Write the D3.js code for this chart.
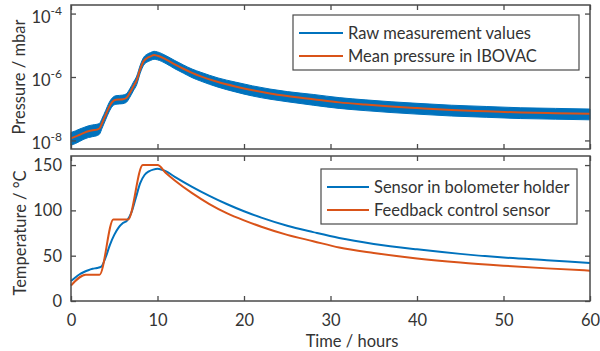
<!DOCTYPE html>
<html lang="en">
<head>
<meta charset="utf-8">
<title>Pressure and temperature</title>
<script src="https://d3js.org/d3.v7.min.js"></script>
<style>
  body { margin: 0; background: #fff; }
  svg text { font-family: Lato, "Open Sans", sans-serif; fill: #333; }
  .axis line, .axis path { stroke: #4a4a4a; }
</style>
</head>
<body>
<svg id="chart" width="600" height="351"></svg>
<script>
// ---- pressure (log10 of mbar) ----
let pTime = [0, 0.5, 1, 1.5, 2, 2.5, 3, 3.3, 3.6, 4, 4.4, 4.8, 5.2, 5.6, 6, 6.4, 6.8, 7.2, 7.6, 8, 8.4, 8.8, 9.2, 9.6, 10,
             11, 12, 13, 14, 15, 17, 19, 21, 23, 25, 28, 31, 34, 37, 40, 44, 48, 52, 56, 60];
let pMeanLog = [-7.93, -7.88, -7.82, -7.76, -7.71, -7.68, -7.66, -7.62, -7.45, -7.2, -6.95, -6.78, -6.72, -6.71, -6.70, -6.66, -6.5, -6.3, -6.1, -5.75, -5.5, -5.4, -5.35, -5.31, -5.33,
                -5.45, -5.6, -5.74, -5.87, -5.98, -6.16, -6.3, -6.42, -6.52, -6.6, -6.7, -6.8, -6.87, -6.93, -6.98, -7.04, -7.08, -7.12, -7.14, -7.16];
// spread of the raw readings around the mean, in decades (above / below)
let pRawUp = [0.18, 0.18, 0.18, 0.17, 0.17, 0.17, 0.17, 0.16, 0.15, 0.14, 0.14, 0.13, 0.13, 0.13, 0.13, 0.13, 0.13, 0.13, 0.13, 0.12, 0.12, 0.12, 0.12, 0.12, 0.12,
              0.12, 0.12, 0.12, 0.12, 0.13, 0.13, 0.14, 0.14, 0.14, 0.14, 0.15, 0.15, 0.15, 0.15, 0.15, 0.15, 0.15, 0.15, 0.15, 0.15];
let pRawDown = [0.22, 0.22, 0.21, 0.2, 0.2, 0.2, 0.19, 0.18, 0.16, 0.15, 0.15, 0.14, 0.14, 0.14, 0.14, 0.14, 0.14, 0.14, 0.14, 0.13, 0.13, 0.13, 0.13, 0.13, 0.13,
                0.13, 0.14, 0.14, 0.15, 0.15, 0.16, 0.17, 0.18, 0.18, 0.18, 0.19, 0.19, 0.19, 0.19, 0.19, 0.19, 0.19, 0.19, 0.19, 0.19];
let pTicks = [-8, -6, -4];

// ---- temperature (deg C) ----
let holderTime = [0, 0.5, 1, 1.5, 2, 2.5, 3, 3.5, 4, 4.5, 5, 5.5, 6, 6.5, 7, 7.5, 8, 8.5, 9, 9.5, 10,
                  11, 12, 14, 16, 18, 20, 22, 25, 28, 31, 35, 40, 45, 50, 55, 60];
let holderTemp = [22, 26, 29.5, 32, 34, 35.5, 36.5, 38, 48, 62, 73, 81, 86, 89, 98, 114, 130, 139, 143, 145, 146,
                  143, 137, 126, 116, 107, 99, 92, 83, 76, 69.5, 63, 57, 52, 48, 45, 42];
let feedbackTime = [0, 1.7, 3.3, 4.9, 6.6, 8.3, 10, 11, 12, 14, 16, 18, 20, 22, 25, 28, 31, 35, 40, 45, 50, 55, 60];
let feedbackTemp = [17, 29, 29, 90, 90, 150, 150, 141, 133, 119, 107, 97, 89, 82, 73, 66, 59, 53, 47, 42.5, 39, 36, 33.5];
let tTicks = [0, 50, 100, 150];
let xTicks = [0, 10, 20, 30, 40, 50, 60];

let blue = "#0072BD", red = "#D95319";
let fs = 16.5;
let svg = d3.select("#chart");
let left = 71, right = 590;
let top1 = 5, bot1 = 149, top2 = 156, bot2 = 301;

let x = d3.scaleLinear().domain([0, 60]).range([left, right]);
let yP = d3.scaleLinear().domain([-8.27, -3.73]).range([bot1, top1]);
let yT = d3.scaleLinear().domain([0, 160]).range([bot2, top2]);

// ---- top panel ----
let pData = pTime.map((t, i) => ({t: t, m: pMeanLog[i], hi: pMeanLog[i] + pRawUp[i], lo: pMeanLog[i] - pRawDown[i]}));

svg.append("path")
    .datum(pData)
    .attr("fill", blue)
    .attr("stroke", blue)
    .attr("stroke-width", 1)
    .attr("d", d3.area().x(d => x(d.t)).y0(d => yP(d.lo)).y1(d => yP(d.hi)).curve(d3.curveMonotoneX));

svg.append("path")
    .datum(pData)
    .attr("fill", "none")
    .attr("stroke", red)
    .attr("stroke-width", 2)
    .attr("d", d3.line().x(d => x(d.t)).y(d => yP(d.m)).curve(d3.curveMonotoneX));

// ---- bottom panel ----
svg.append("path")
    .datum(holderTime.map((t, i) => [t, holderTemp[i]]))
    .attr("fill", "none")
    .attr("stroke", blue)
    .attr("stroke-width", 2)
    .attr("d", d3.line().x(d => x(d[0])).y(d => yT(d[1])).curve(d3.curveMonotoneX));

svg.append("path")
    .datum(feedbackTime.map((t, i) => [t, feedbackTemp[i]]))
    .attr("fill", "none")
    .attr("stroke", red)
    .attr("stroke-width", 2)
    .attr("d", d3.line().x(d => x(d[0])).y(d => yT(d[1])).curve(d3.curveMonotoneX));

// ---- axes (box with inward ticks) ----
function box(y, top, bot, ticks, withXLabels) {
    let g = svg.append("g").attr("class", "axis");
    g.append("g").attr("transform", `translate(0,${bot})`)
        .call(d3.axisBottom(x).tickValues(xTicks).tickSize(-5).tickSizeOuter(0).tickFormat(withXLabels ? d3.format("d") : ""))
        .call(a => a.selectAll("text").attr("y", 0).attr("dy", 25).attr("font-size", fs).attr("fill", "#333"));
    g.append("g").attr("transform", `translate(0,${top})`)
        .call(d3.axisTop(x).tickValues(xTicks).tickSize(-5).tickSizeOuter(0).tickFormat(""));
    g.append("g").attr("transform", `translate(${left},0)`)
        .call(d3.axisLeft(y).tickValues(ticks).tickSize(-5).tickSizeOuter(0).tickFormat(""));
    g.append("g").attr("transform", `translate(${right},0)`)
        .call(d3.axisRight(y).tickValues(ticks).tickSize(-5).tickSizeOuter(0).tickFormat(""));
    g.selectAll("line").attr("stroke-width", 1.3);
    g.selectAll(".domain").remove();
    g.append("rect").attr("x", left).attr("y", top).attr("width", right - left).attr("height", bot - top)
        .attr("fill", "none").attr("stroke", "#4a4a4a").attr("stroke-width", 1.5);
}
box(yP, top1, bot1, pTicks, false);
box(yT, top2, bot2, tTicks, true);

// y tick labels
pTicks.forEach(v => {
    let t = svg.append("text").attr("x", 62).attr("y", yP(v) + 9)
        .attr("text-anchor", "end").attr("font-size", fs);
    t.append("tspan").text("10");
    t.append("tspan").attr("dy", -8).attr("font-size", 12).text(String(v));
});
tTicks.forEach(v => {
    svg.append("text").attr("x", 62).attr("y", yT(v) + 6)
        .attr("text-anchor", "end").attr("font-size", fs).text(v);
});

// axis titles
svg.append("text").attr("transform", "translate(25,77) rotate(-90)")
    .attr("text-anchor", "middle").attr("font-size", fs).text("Pressure / mbar");
svg.append("text").attr("transform", "translate(26,233) rotate(-90)")
    .attr("text-anchor", "middle").attr("font-size", fs).text("Temperature / °C");
svg.append("text").attr("x", 352).attr("y", 347)
    .attr("text-anchor", "middle").attr("font-size", fs).text("Time / hours");

// legends
function legend(x0, y0, w, h, x1, x2, items) {
    svg.append("rect").attr("x", x0).attr("y", y0).attr("width", w).attr("height", h)
        .attr("fill", "#fff").attr("stroke", "#4a4a4a").attr("stroke-width", 1.2);
    items.forEach((it, i) => {
        let yy = y0 + 18 + i * 23;
        svg.append("line").attr("x1", x1).attr("x2", x2).attr("y1", yy).attr("y2", yy)
            .attr("stroke", it.color).attr("stroke-width", 2);
        svg.append("text").attr("x", x2 + 5).attr("y", yy + 6).attr("font-size", fs).text(it.label);
    });
}
legend(293, 15, 286, 55, 299, 343, [
    {label: "Raw measurement values", color: blue},
    {label: "Mean pressure in IBOVAC", color: red}
]);
legend(321, 169, 256, 55, 327, 369, [
    {label: "Sensor in bolometer holder", color: blue},
    {label: "Feedback control sensor", color: red}
]);
</script>
</body>
</html>
